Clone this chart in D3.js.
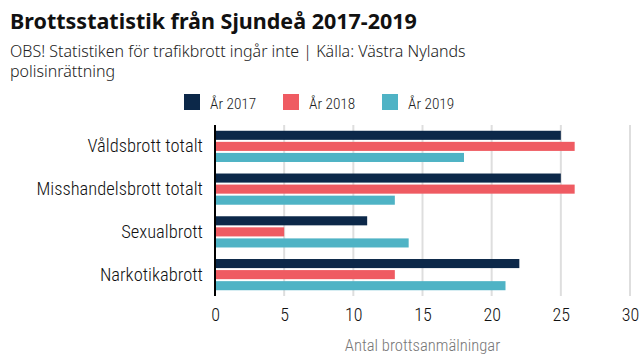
<!DOCTYPE html>
<html><head><meta charset="utf-8">
<script src="https://cdn.jsdelivr.net/npm/d3@7"></script>
<style>
body{margin:0;background:#fff;}
.hdr{font-family:"Noto Sans",sans-serif;}
.cht{font-family:"Roboto",sans-serif;font-stretch:condensed;font-weight:300;}
</style></head>
<body><svg id="c" width="640" height="360"></svg>
<script>
const categories = ["Våldsbrott totalt","Misshandelsbrott totalt","Sexualbrott","Narkotikabrott"];
const seriesNames = ["År 2017","År 2018","År 2019"];
const values2017 = [25,25,11,22];
const values2018 = [26,26,5,13];
const values2019 = [18,13,14,21];
const xTicks = [0,5,10,15,20,25,30];
const colors = ["#0c2849","#ef5b62","#4fb3c5"];
const seriesValues = [values2017, values2018, values2019];

const svg = d3.select("#c");
const m = {left:215, right:630, top:125, bottom:296};

svg.append("text").attr("class","hdr").attr("x",10).attr("y",28.5).attr("font-size",21.5).attr("font-weight",700).attr("fill","#111")
  .text("Brottsstatistik från Sjundeå 2017-2019");
svg.append("text").attr("class","hdr").attr("x",10).attr("y",57).attr("font-size",16).attr("font-weight",300).attr("fill","#222")
  .text("OBS! Statistiken för trafikbrott ingår inte | Källa: Västra Nylands");
svg.append("text").attr("class","hdr").attr("x",10).attr("y",77).attr("font-size",16).attr("font-weight",300).attr("fill","#222")
  .text("polisinrättning");

const x = d3.scaleLinear().domain([0,30]).range([m.left,m.right]);
const y0 = d3.scaleBand().domain(categories).range([m.top,m.bottom]).paddingInner(0.27).paddingOuter(0.135);
const y1 = d3.scaleBand().domain(seriesNames).range([0,y0.bandwidth()]).paddingInner(0.18);

// grid
svg.append("g").selectAll("line").data(xTicks.filter(d=>d>0)).join("line")
  .attr("x1",d=>x(d)).attr("x2",d=>x(d)).attr("y1",m.top).attr("y2",m.bottom)
  .attr("stroke","#dedede").attr("stroke-width",2);

// bars
const g = svg.append("g");
categories.forEach((c,i)=>{
  seriesNames.forEach((s,j)=>{
    g.append("rect").attr("x",x(0)).attr("y",y0(c)+y1(s))
      .attr("width",x(seriesValues[j][i])-x(0)).attr("height",y1.bandwidth())
      .attr("fill",colors[j]);
  });
});

// zero axis line
svg.append("line").attr("x1",x(0)).attr("x2",x(0)).attr("y1",m.top).attr("y2",m.bottom)
  .attr("stroke","#000").attr("stroke-width",2);

// x axis
const xa = svg.append("g").attr("transform",`translate(0,${m.bottom})`)
  .call(d3.axisBottom(x).tickValues(xTicks).tickSize(0).tickPadding(12));
xa.select(".domain").remove();
xa.selectAll("text").attr("class","cht").attr("font-size",18).attr("fill","#111");

// y axis
const ya = svg.append("g").attr("transform",`translate(${m.left},0)`)
  .call(d3.axisLeft(y0).tickSize(0).tickPadding(12));
ya.select(".domain").remove();
ya.selectAll("text").attr("class","cht").attr("font-size",18.5).attr("fill","#111");

svg.append("text").attr("class","cht").attr("x",422.5).attr("y",351).attr("text-anchor","middle").attr("font-size",16.6).attr("fill","#777")
  .text("Antal brottsanmälningar");

// legend
const lx = [184,283,382];
seriesNames.forEach((s,j)=>{
  svg.append("rect").attr("x",lx[j]).attr("y",94).attr("width",16).attr("height",16).attr("fill",colors[j]);
  svg.append("text").attr("class","cht").attr("x",lx[j]+26).attr("y",108.5).attr("font-size",15.3).attr("fill","#222").text(s);
});
</script></body></html>
